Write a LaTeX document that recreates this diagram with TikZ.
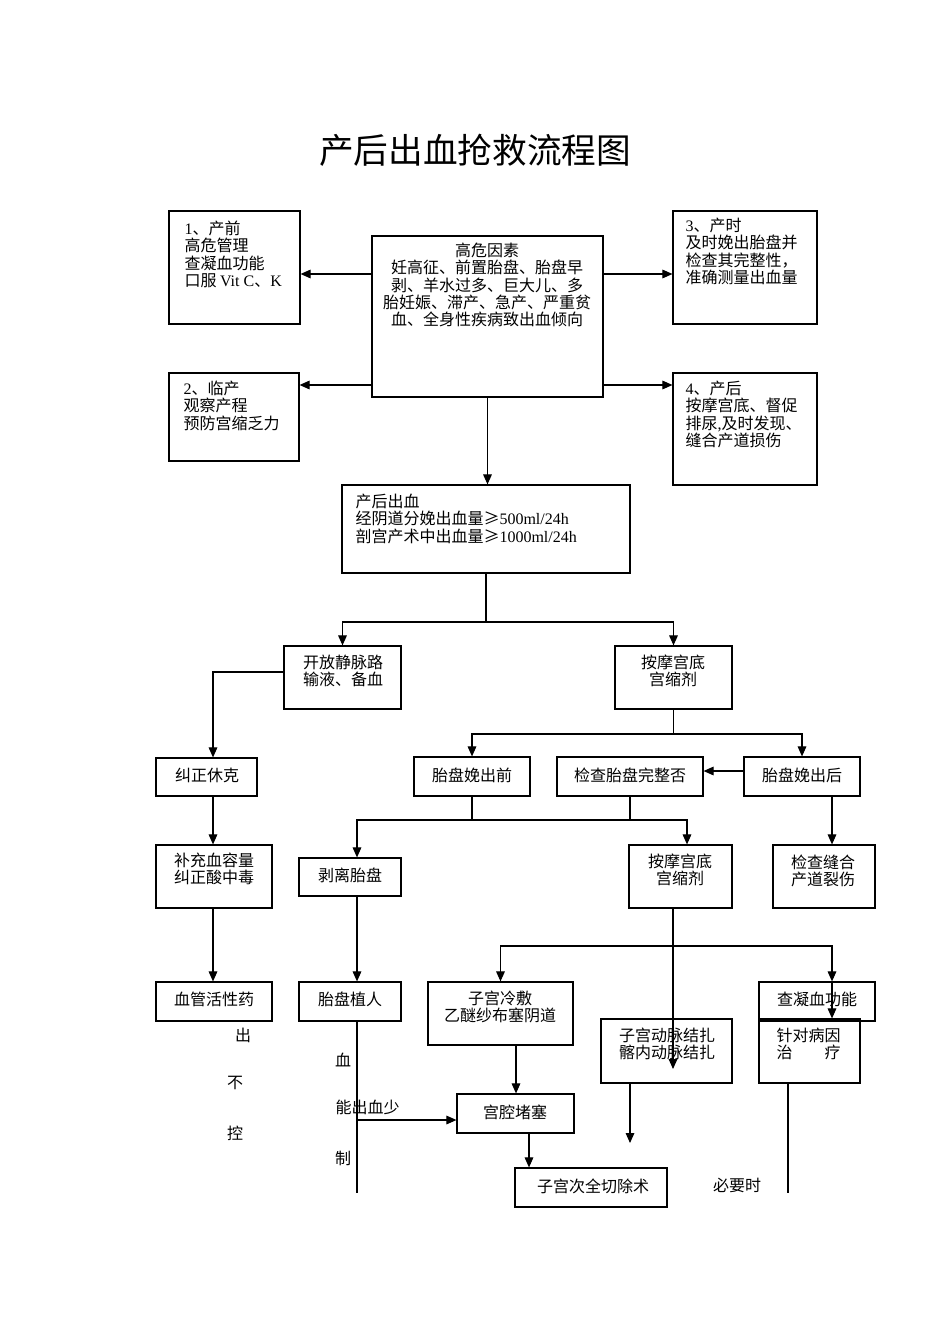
\documentclass[tikz,border=0pt]{standalone}
\usepackage{fontspec}
\setmainfont{Liberation Serif}
\newfontfamily\cjk{Noto Sans CJK SC}
\usetikzlibrary{arrows.meta}
\newcommand\lat[1]{{\rmfamily #1}}
\newcommand\mkbox[5]{\node[box, minimum width={(#4-#2)*0.75pt}, minimum height={(#5-#3)*0.75pt}] (#1) at ({(#2+#4)/2},{(#3+#5)/2}) {};}
\begin{document}
\begin{tikzpicture}[x=0.75pt,y=-0.75pt, line width=0.8pt,
  box/.style={draw, line width=0.9pt, inner sep=0pt, rectangle},
  txt/.style={font={\cjk\fontsize{12pt}{13pt}\selectfont}, inner sep=0pt},
  arr/.style={-{Triangle[length=7.5pt,width=6.5pt]}}]
\useasboundingbox (0,0) rectangle (950,1344);

\node[font={\cjk\fontsize{26pt}{30pt}\selectfont}, inner sep=0pt] (title) at (475,150) {产后出血抢救流程图};

% boxes
\mkbox{b1}{169}{211}{300}{324}
\mkbox{hi}{372}{236}{603}{397}
\mkbox{b3}{673}{211}{817}{324}
\mkbox{b2}{169}{373}{299}{461}
\mkbox{b4}{673}{373}{817}{485}
\mkbox{pph}{342}{485}{630}{573}
\mkbox{iv}{284}{646}{401}{709}
\mkbox{mas1}{615}{646}{732}{709}
\mkbox{shock}{156}{758}{257}{796}
\mkbox{vol}{156}{845}{272}{908}
\mkbox{vaso}{156}{982}{272}{1021}
\mkbox{pre}{414}{757}{530}{796}
\mkbox{chk}{557}{757}{703}{796}
\mkbox{post}{744}{757}{860}{796}
\mkbox{peel}{299}{858}{401}{896}
\mkbox{mas2}{629}{845}{732}{908}
\mkbox{sut}{773}{845}{875}{908}
\mkbox{acc}{299}{982}{401}{1021}
\mkbox{cold}{428}{982}{573}{1045}
\mkbox{coag}{759}{982}{875}{1021}
\mkbox{cause}{759}{1019}{860}{1083}
\mkbox{lig}{601}{1019}{732}{1083}
\mkbox{pack}{457}{1094}{574}{1133}
\mkbox{hyst}{515}{1168}{667}{1207}

% texts
\node[txt, anchor=north west, align=left] (t1) at (184,220.5) {\lat{1}、产前\\高危管理\\查凝血功能\\口服 \lat{Vit C}、\lat{K}};
\node[txt, anchor=north, align=center] (thi) at (487,242.5) {高危因素\\妊高征、前置胎盘、胎盘早\\剥、羊水过多、巨大儿、多\\胎妊娠、滞产、急产、严重贫\\血、全身性疾病致出血倾向};
\node[txt, anchor=north west, align=left] (t3) at (685,217.5) {\lat{3}、产时\\及时娩出胎盘并\\检查其完整性，\\准确测量出血量};
\node[txt, anchor=north west, align=left] (t2) at (183,380.5) {\lat{2}、临产\\观察产程\\预防宫缩乏力};
\node[txt, anchor=north west, align=left] (t4) at (685,380.5) {\lat{4}、产后\\按摩宫底、督促\\排尿\lat{,}及时发现、\\缝合产道损伤};
\node[txt, anchor=north west, align=left] (tpph) at (355,493.5) {产后出血\\经阴道分娩出血量≥\lat{500ml/24h}\\剖宫产术中出血量≥\lat{1000ml/24h}};
\node[txt, anchor=north, align=center] (tiv) at (343,654.5) {开放静脉路\\输液、备血};
\node[txt, anchor=north, align=center] (tmas1) at (673,654.5) {按摩宫底\\宫缩剂};
\node[txt] (tshock) at (207,775) {纠正休克};
\node[txt, anchor=north, align=center] (tvol) at (214,852.5) {补充血容量\\纠正酸中毒};
\node[txt] (tvaso) at (214,999) {血管活性药};
\node[txt] (tpre) at (472,775) {胎盘娩出前};
\node[txt] (tchk) at (630,775) {检查胎盘完整否};
\node[txt] (tpost) at (802,775) {胎盘娩出后};
\node[txt] (tpeel) at (350,875) {剥离胎盘};
\node[txt, anchor=north, align=center] (tmas2) at (680,853.5) {按摩宫底\\宫缩剂};
\node[txt, anchor=north, align=center] (tsut) at (823,854.5) {检查缝合\\产道裂伤};
\node[txt] (tacc) at (350,999) {胎盘植人};
\node[txt, anchor=north, align=center] (tcold) at (500,990.5) {子宫冷敷\\乙醚纱布塞阴道};
\node[txt] (tcoag) at (817,999) {查凝血功能};
\node[txt, anchor=north west, align=left] (tcause) at (776,1027.5) {针对病因\\治　　疗};
\node[txt, anchor=north, align=center] (tlig) at (667,1027.5) {子宫动脉结扎\\髂内动脉结扎};
\node[txt] (tpack) at (515,1112) {宫腔堵塞};
\node[txt] (thyst) at (593,1186) {子宫次全切除术};
\node[txt] (f1) at (243,1035) {出};
\node[txt] (f2) at (235,1083) {不};
\node[txt] (f3) at (235,1133) {控};
\node[txt] (f4) at (343,1060) {血};
\node[txt, anchor=west] (f5) at (335,1107) {能出血少};
\node[txt] (f6) at (343,1158) {制};
\node[txt] (f7) at (737,1185) {必要时};

% coordinates
\coordinate (yA) at (0,274);
\coordinate (yB) at (0,385);
\coordinate (s1) at (0,622);
\coordinate (xs) at (213,0);
\coordinate (yiv) at (0,672);
\coordinate (ypc) at (0,771);
\coordinate (s2) at (0,734);
\coordinate (s3) at (0,820);
\coordinate (x357) at (357,0);
\coordinate (x687) at (687,0);
\coordinate (x832) at (832,0);
\coordinate (e1) at (357,1193);
\coordinate (m1) at (357,1120);
\coordinate (s4) at (673,946);
\coordinate (e2) at (673,1069);
\coordinate (x516) at (516,0);
\coordinate (x529) at (529,0);
\coordinate (e3) at (630,1143);
\coordinate (e4) at (788,1193);

% connectors
\draw[arr] (hi.west |- yA) -- (b1.east |- yA);
\draw[arr] (hi.east |- yA) -- (b3.west |- yA);
\draw[arr] (hi.west |- yB) -- (b2.east |- yB);
\draw[arr] (hi.east |- yB) -- (b4.west |- yB);
\draw[arr] (hi.south) -- (hi.south |- pph.north);
\draw (pph.south) -- (pph.south |- s1);
\draw[arr] (pph.south |- s1) -| (iv.north);
\draw[arr] (pph.south |- s1) -| (mas1.north);
\draw[arr] (iv.west |- yiv) -| (xs |- shock.north);
\draw[arr] (xs |- shock.south) -- (xs |- vol.north);
\draw[arr] (xs |- vol.south) -- (xs |- vaso.north);
\draw (mas1.south) -- (mas1.south |- s2);
\draw[arr] (mas1.south |- s2) -| (pre.north);
\draw[arr] (mas1.south |- s2) -| (post.north);
\draw[arr] (post.west |- ypc) -- (chk.east |- ypc);
\draw (pre.south) -- (pre.south |- s3);
\draw (chk.south) -- (chk.south |- s3);
\draw[arr] (chk.south |- s3) -| (x357 |- peel.north);
\draw[arr] (chk.south |- s3) -| (x687 |- mas2.north);
\draw[arr] (x832 |- post.south) -- (x832 |- sut.north);
\draw[arr] (x357 |- peel.south) -- (x357 |- acc.north);
\draw (x357 |- acc.south) -- (e1);
\draw[arr] (m1) -- (pack.west |- m1);
\draw[arr] (s4 |- mas2.south) -- (e2);
\draw[arr] (s4) -| (cold.north);
\draw[arr] (s4) -| (x832 |- coag.north);
\draw[arr] (x832 |- coag.north) -- (x832 |- cause.north);
\draw[arr] (x516 |- cold.south) -- (x516 |- pack.north);
\draw[arr] (x529 |- pack.south) -- (x529 |- hyst.north);
\draw[arr] (e3 |- lig.south) -- (e3);
\draw (e4 |- cause.south) -- (e4);
\end{tikzpicture}
\end{document}
